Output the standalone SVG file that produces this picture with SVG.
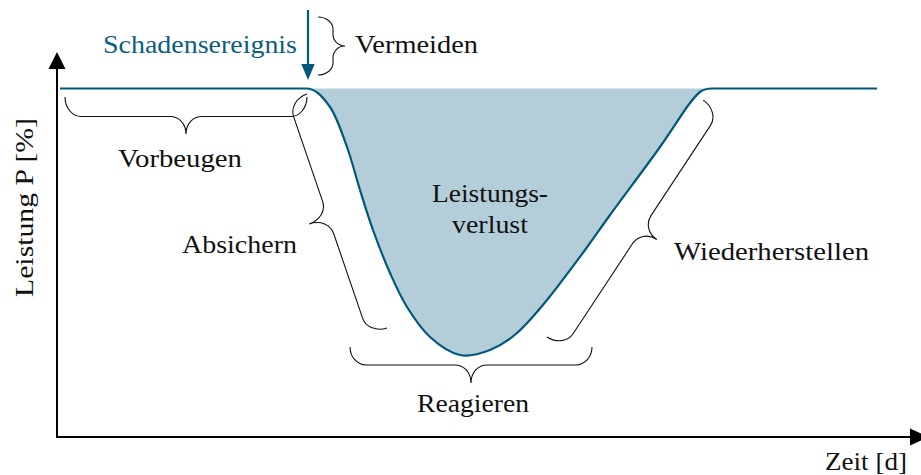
<svg xmlns="http://www.w3.org/2000/svg" width="921" height="475" viewBox="0 0 921 475">
<style>
text{font-family:'Liberation Serif','Times New Roman',serif;font-size:25px;fill:#111}
.teal{fill:#0b5e80}
.brace{fill:none;stroke:#111;stroke-width:1.1}
.axis{stroke:#000;stroke-width:2;fill:none}
.curve{fill:none;stroke:#00597a;stroke-width:2.2}
</style>
<rect width="921" height="475" fill="#fff"/>
<g id="loss-area">
<path d="M306,88.5 C316,88.5 323.2,97.25 330,107 C336.8,116.75 342,133.2 347,147 C352,160.8 355.7,176.2 360,190 C364.3,203.8 368,216.2 373,230 C378,243.8 384.3,260.2 390,273 C395.7,285.8 400.3,296.3 407,307 C413.7,317.7 421.2,329 430,337 C438.8,345 450,352.8 460,355 C470,357.2 480.5,353.7 490,350 C499.5,346.3 507.5,341.3 517,333 C526.5,324.7 535.7,313.8 547,300 C558.3,286.2 574.5,264.2 585,250 C595.5,235.8 597.5,232.2 610,215 C622.5,197.8 647.2,165 660,147 C672.8,129 680.3,116.2 687,107 C693.7,97.8 695.8,95.1 700,92 C704.2,88.9 708,88.5 712,88.5 Z" fill="#b3cdd9"/>
<text x="490" y="202" text-anchor="middle" textLength="116" lengthAdjust="spacingAndGlyphs">Leistungs-</text>
<text x="490" y="233" text-anchor="middle" textLength="76" lengthAdjust="spacingAndGlyphs">verlust</text>
</g>
<g id="axes">
<line class="axis" x1="57" y1="438" x2="57" y2="66"/>
<polygon points="57,52 48.5,69 65.5,69" fill="#000"/>
<line class="axis" x1="56" y1="437" x2="912" y2="437"/>
<polygon points="929,437 910,428.5 910,445.5" fill="#000"/>
<text x="866" y="470" text-anchor="middle" textLength="82" lengthAdjust="spacingAndGlyphs">Zeit [d]</text>
<text transform="translate(33,207.5) rotate(-90)" x="0" y="0" text-anchor="middle" textLength="179" lengthAdjust="spacingAndGlyphs">Leistung P [%]</text>
</g>
<g id="performance-curve">
<path class="curve" d="M60,88.5 L306,88.5 C316,88.5 323.2,97.25 330,107 C336.8,116.75 342,133.2 347,147 C352,160.8 355.7,176.2 360,190 C364.3,203.8 368,216.2 373,230 C378,243.8 384.3,260.2 390,273 C395.7,285.8 400.3,296.3 407,307 C413.7,317.7 421.2,329 430,337 C438.8,345 450,352.8 460,355 C470,357.2 480.5,353.7 490,350 C499.5,346.3 507.5,341.3 517,333 C526.5,324.7 535.7,313.8 547,300 C558.3,286.2 574.5,264.2 585,250 C595.5,235.8 597.5,232.2 610,215 C622.5,197.8 647.2,165 660,147 C672.8,129 680.3,116.2 687,107 C693.7,97.8 695.8,95.1 700,92 C704.2,88.9 708,88.5 712,88.5 L877,88.5"/>
</g>
<g id="schadensereignis">
<line x1="308" y1="10" x2="308" y2="66" stroke="#00597a" stroke-width="2.2"/>
<polygon points="308,80 301.3,64 314.7,64" fill="#00597a"/>
<text class="teal" x="103" y="53" textLength="194" lengthAdjust="spacingAndGlyphs">Schadensereignis</text>
</g>
<g id="vermeiden">
<path class="brace" transform="translate(318,75) rotate(-90)" d="M0,0 C0,8 5.4,15 12,15 L17,15 C23.6,15 29,19.8 29,27 C29,19.8 34.4,15 41,15 L46,15 C52.6,15 58,8 58,0"/>
<text x="355" y="53" textLength="123" lengthAdjust="spacingAndGlyphs">Vermeiden</text>
</g>
<g id="vorbeugen">
<path class="brace" transform="translate(65,97)" d="M0,0 C0,10.7 7.2,19.5 16,19.5 L105,19.5 C113.8,19.5 121,26.5 121,37 C121,26.5 128.2,19.5 137,19.5 L226,19.5 C234.8,19.5 242,10.7 242,0"/>
<text x="118" y="167" textLength="124" lengthAdjust="spacingAndGlyphs">Vorbeugen</text>
</g>
<g id="absichern">
<path class="brace" transform="translate(307,94) rotate(71.1)" d="M0,0 C0,11 7.6,20 17,20 L106.65,20 C116,20 123.65,28 123.65,40 C123.65,28 131.3,20 140.65,20 L230.3,20 C239.7,20 247.3,11 247.3,0"/>
<text x="182" y="253" textLength="115" lengthAdjust="spacingAndGlyphs">Absichern</text>
</g>
<g id="reagieren">
<path class="brace" transform="translate(350,347)" d="M0,0 C0,9.9 7.2,18 16,18 L105,18 C113.8,18 121,25.2 121,36 C121,25.2 128.2,18 137,18 L226,18 C234.8,18 242,9.9 242,0"/>
<text x="417" y="412" textLength="112" lengthAdjust="spacingAndGlyphs">Reagieren</text>
</g>
<g id="wiederherstellen">
<path class="brace" transform="translate(547,337) rotate(-56.6)" d="M0,0 C0,11 7.6,20 17,20 L124.85,20 C134.2,20 141.85,27.2 141.85,38 C141.85,27.2 149.5,20 158.85,20 L266.7,20 C276.1,20 283.7,11 283.7,0"/>
<text x="674" y="260" textLength="195" lengthAdjust="spacingAndGlyphs">Wiederherstellen</text>
</g>
</svg>
